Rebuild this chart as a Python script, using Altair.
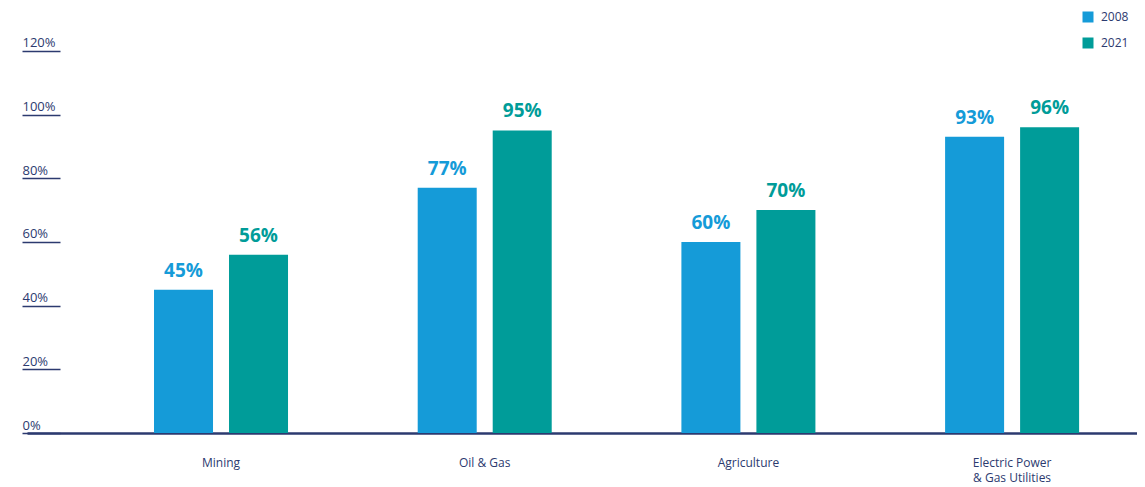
import altair as alt
import pandas as pd

categories = ["Mining", "Oil & Gas", "Agriculture", "Electric Power & Gas Utilities"]
years = ["2008", "2021"]
values_2008 = [45, 77, 60, 93]
values_2021 = [56, 95, 70, 96]
y_ticks = [0, 20, 40, 60, 80, 100, 120]
colors = ["#159bd8", "#009c99"]

rows = []
for c, a, b in zip(categories, values_2008, values_2021):
    rows.append({"category": c, "year": "2008", "value": a, "label": f"{a}%"})
    rows.append({"category": c, "year": "2021", "value": b, "label": f"{b}%"})
df = pd.DataFrame(rows)

navy = "#2c3a6f"
font = "Open Sans"

x = alt.X(
    "category:N",
    sort=categories,
    scale=alt.Scale(paddingInner=0.4918, paddingOuter=0.3506, align=0.6869, round=False),
    axis=alt.Axis(
        title=None, labelAngle=0, domainColor=navy, domainWidth=2.5,
        ticks=False, tickSize=0, labelPadding=24, labelFont=font,
        labelFontSize=12, labelColor=navy, labelLineHeight=15,
        labelExpr="datum.label == 'Electric Power & Gas Utilities' ? ['Electric Power', '& Gas Utilities'] : datum.label",
    ),
)
xo = alt.XOffset("year:N", sort=years,
                 scale=alt.Scale(paddingInner=0.2133, paddingOuter=0, round=False))
y = alt.Y(
    "value:Q",
    scale=alt.Scale(domain=[0, 130], nice=False),
    axis=alt.Axis(
        title=None, values=y_ticks, labelExpr="datum.value + '%'",
        domain=False, grid=False, offset=-33, tickSize=38, tickColor=navy,
        tickWidth=1.5, labelAlign="left", labelBaseline="alphabetic",
        labelPadding=0, labelOffset=-4, labelFont=font, labelFontSize=13,
        labelColor=navy,
    ),
)
color = alt.Color(
    "year:N",
    scale=alt.Scale(domain=years, range=colors),
    legend=alt.Legend(
        title=None, orient="none", legendX=1055, legendY=-8,
        symbolType="square", symbolSize=121, symbolStrokeWidth=0,
        symbolOpacity=1, labelFont=font, labelFontSize=12, labelColor=navy,
        labelOffset=7, rowPadding=14, padding=0,
    ),
)

bars = alt.Chart(df).mark_bar().encode(x=x, xOffset=xo, y=y, color=color)
texts = alt.Chart(df).mark_text(
    font=font, fontWeight="bold", fontSize=19, baseline="alphabetic", dy=-13
).encode(
    x=x, xOffset=xo, y=y, text="label:N",
    color=alt.Color("year:N", scale=alt.Scale(domain=years, range=colors), legend=None),
)

chart = (
    alt.layer(bars, texts)
    .properties(
        width=1110, height=414,
        autosize=alt.AutoSizeParams(type="none"),
        padding={"left": 19, "top": 11, "right": 0, "bottom": 54},
    )
    .configure_view(stroke=None)
)

chart.save("out.html", embed_options={"renderer": "svg", "actions": False})
